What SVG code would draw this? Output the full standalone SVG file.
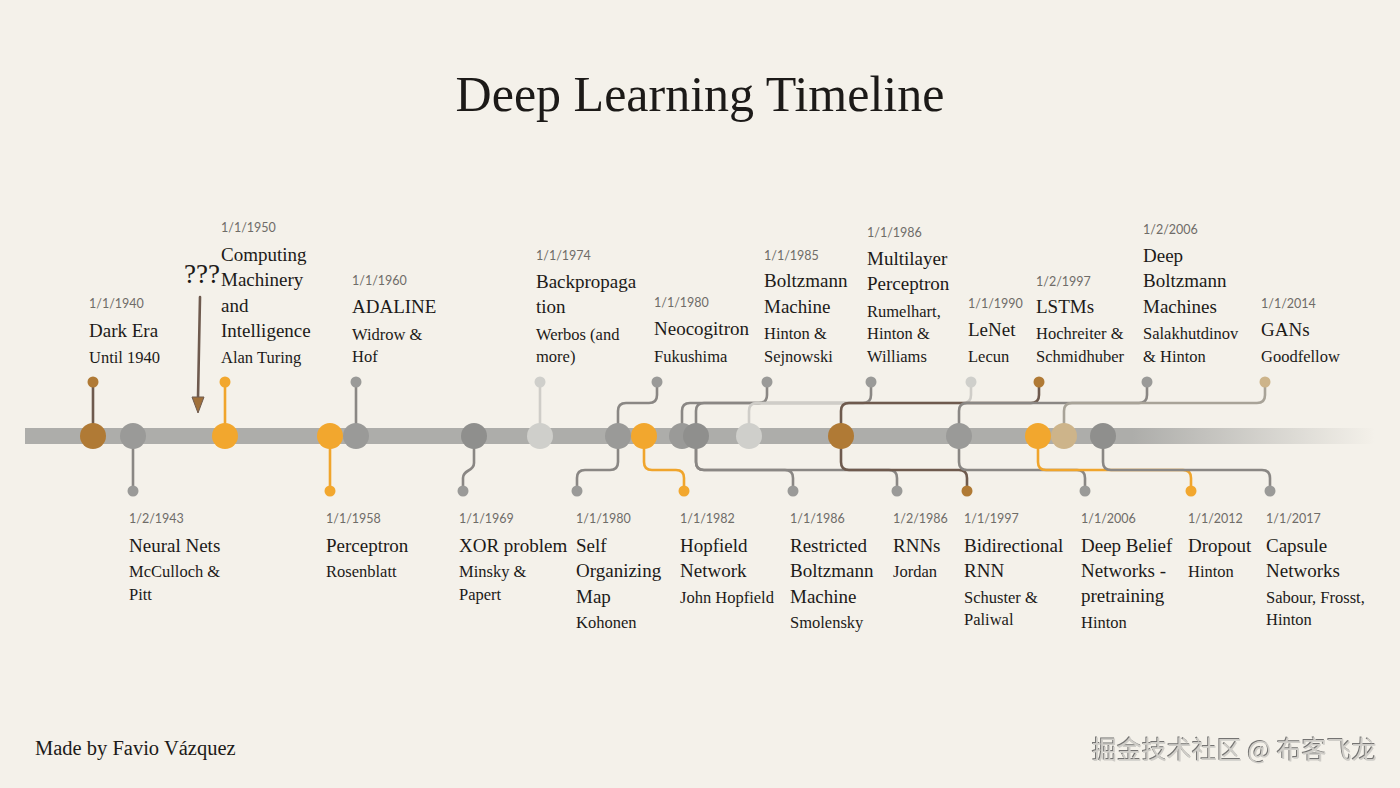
<svg xmlns="http://www.w3.org/2000/svg" width="1400" height="788" viewBox="0 0 1400 788">
<defs>
<style>
.title{font-family:"Liberation Serif",serif;font-size:50px;fill:#1c1a18}
.d{font-family:"Lato","Open Sans",sans-serif;font-size:12.5px;fill:#6f6c68}
.t{font-family:"Liberation Serif",serif;font-size:19px;fill:#1c1a18}
.a{font-family:"Liberation Serif",serif;font-size:16.5px;fill:#1c1a18}
.foot{font-family:"Liberation Serif",serif;font-size:20.5px;fill:#1c1a18}
.wm{font-family:"Noto Sans CJK SC",sans-serif;font-size:25px;fill:#cfcdc8}
.ln{fill:none;stroke-width:2.6;stroke-linecap:round}
.g{stroke:#8a8784}
.lg{stroke:#cfcdc8}
.br{stroke:#6e5a4e}
.or{stroke:#f0a52c}
.tn{stroke:#a8a398}
.cg{fill:#9a9a98}
.cgd{fill:#8f8f8d}
.co{fill:#f2a72e}
.cb{fill:#b07a35}
.cl{fill:#cfcfcb}
.ct{fill:#cdb48a}
</style>
<linearGradient id="bar" x1="0" y1="0" x2="1" y2="0">
<stop offset="0" stop-color="#adadaa"/>
<stop offset="0.82" stop-color="#adadaa"/>
<stop offset="1" stop-color="#adadaa" stop-opacity="0"/>
</linearGradient>
<filter id="emb" x="-5%" y="-20%" width="110%" height="140%">
<feDropShadow dx="-1" dy="-1" stdDeviation="0.4" flood-color="#555" flood-opacity="0.8"/>
</filter>
</defs>
<rect width="1400" height="788" fill="#f4f1ea"/>
<text class="title" x="700" y="111" text-anchor="middle">Deep Learning Timeline</text>

<rect id="bar-axis" x="25" y="428" width="1350" height="16" fill="url(#bar)"/>

<g id="connectors">
<path class="ln br" d="M93,436 V382"/>
<path class="ln g" d="M133,436 V491"/>
<path class="ln or" d="M225,436 V382"/>
<path class="ln or" d="M330,436 V491"/>
<path class="ln g" d="M356,436 V382"/>
<path class="ln g" d="M474,436 V463 C474,472 463,469 463,478 V491"/>
<path class="ln lg" d="M540,436 V382"/>
<path class="ln g" d="M618,436 V411 Q618,403 626,403 H649 Q657,403 657,395 V382"/>
<path class="ln g" d="M618,436 V462 Q618,470 610,470 H585 Q577,470 577,478 V491"/>
<path class="ln or" d="M644,436 V462 Q644,470 652,470 H676 Q684,470 684,478 V491"/>
<path class="ln g" d="M682,436 V411 Q682,403 690,403 H759 Q767,403 767,395 V382"/>
<path class="ln g" d="M696,436 V411 Q696,403 704,403 H863 Q871,403 871,395 V382"/>
<path class="ln g" d="M696,436 V462 Q696,470 704,470 H785 Q793,470 793,478 V491"/>
<path class="ln g" d="M696,436 V462 Q696,470 704,470 H889 Q897,470 897,478 V491"/>
<path class="ln lg" d="M749,436 V411 Q749,403 757,403 H963 Q971,403 971,395 V382"/>
<path class="ln br" d="M841,436 V411 Q841,403 849,403 H1031 Q1039,403 1039,395 V382"/>
<path class="ln br" d="M841,436 V462 Q841,470 849,470 H959 Q967,470 967,478 V491"/>
<path class="ln g" d="M959,436 V411 Q959,403 967,403 H1139 Q1147,403 1147,395 V382"/>
<path class="ln g" d="M959,436 V462 Q959,470 967,470 H1077 Q1085,470 1085,478 V491"/>
<path class="ln or" d="M1038,436 V462 Q1038,470 1046,470 H1183 Q1191,470 1191,478 V491"/>
<path class="ln tn" d="M1064,436 V411 Q1064,403 1072,403 H1257 Q1265,403 1265,395 V382"/>
<path class="ln g" d="M1103,436 V462 Q1103,470 1111,470 H1262 Q1270,470 1270,478 V491"/>
<path class="ln br" d="M200,297 L198,398"/>
<polygon points="192,397 204,397 198,413" fill="#a0703a" stroke="#6e5a4e" stroke-width="1"/>
</g>

<g id="axis-circles">
<circle cx="93" cy="436" r="13" class="cb"/>
<circle cx="133" cy="436" r="13" class="cg"/>
<circle cx="225" cy="436" r="13" class="co"/>
<circle cx="330" cy="436" r="13" class="co"/>
<circle cx="356" cy="436" r="13" class="cg"/>
<circle cx="474" cy="436" r="13" class="cgd"/>
<circle cx="540" cy="436" r="13" class="cl"/>
<circle cx="618" cy="436" r="13" class="cg"/>
<circle cx="644" cy="436" r="13" class="co"/>
<circle cx="682" cy="436" r="13" class="cg"/>
<circle cx="696" cy="436" r="13" class="cgd"/>
<circle cx="749" cy="436" r="13" class="cl"/>
<circle cx="841" cy="436" r="13" class="cb"/>
<circle cx="959" cy="436" r="13" class="cg"/>
<circle cx="1038" cy="436" r="13" class="co"/>
<circle cx="1064" cy="436" r="13" class="ct"/>
<circle cx="1103" cy="436" r="13" class="cgd"/>
</g>

<g id="n-darkera">
<circle cx="93" cy="382" r="5.5" class="cb"/>
<text class="d" x="89" y="308">1/1/1940</text>
<text class="t" x="89" y="337">Dark Era</text>
<text class="a" x="89" y="363">Until 1940</text>
</g>
<g id="n-unknown">
<text x="184" y="283" font-family="Liberation Serif,serif" font-size="27" fill="#1c1a18">???</text>
</g>
<g id="n-computing">
<circle cx="225" cy="382" r="5.5" class="co"/>
<text class="d" x="221" y="232">1/1/1950</text>
<text class="t" x="221" y="261">Computing</text>
<text class="t" x="221" y="286">Machinery</text>
<text class="t" x="221" y="312">and</text>
<text class="t" x="221" y="337">Intelligence</text>
<text class="a" x="221" y="363">Alan Turing</text>
</g>
<g id="n-adaline">
<circle cx="356" cy="382" r="5.5" class="cg"/>
<text class="d" x="352" y="285">1/1/1960</text>
<text class="t" x="352" y="313">ADALINE</text>
<text class="a" x="352" y="340">Widrow &amp;</text>
<text class="a" x="352" y="362">Hof</text>
</g>
<g id="n-backprop">
<circle cx="540" cy="382" r="5.5" class="cl"/>
<text class="d" x="536" y="260">1/1/1974</text>
<text class="t" x="536" y="288">Backpropaga</text>
<text class="t" x="536" y="313">tion</text>
<text class="a" x="536" y="340">Werbos (and</text>
<text class="a" x="536" y="362">more)</text>
</g>
<g id="n-neocognitron">
<circle cx="657" cy="382" r="5.5" class="cg"/>
<text class="d" x="654" y="307">1/1/1980</text>
<text class="t" x="654" y="335">Neocogitron</text>
<text class="a" x="654" y="362">Fukushima</text>
</g>
<g id="n-boltzmann">
<circle cx="767" cy="382" r="5.5" class="cg"/>
<text class="d" x="764" y="260">1/1/1985</text>
<text class="t" x="764" y="287">Boltzmann</text>
<text class="t" x="764" y="313">Machine</text>
<text class="a" x="764" y="339">Hinton &amp;</text>
<text class="a" x="764" y="362">Sejnowski</text>
</g>
<g id="n-multilayer">
<circle cx="871" cy="382" r="5.5" class="cg"/>
<text class="d" x="867" y="237">1/1/1986</text>
<text class="t" x="867" y="265">Multilayer</text>
<text class="t" x="867" y="290">Perceptron</text>
<text class="a" x="867" y="317">Rumelhart,</text>
<text class="a" x="867" y="339">Hinton &amp;</text>
<text class="a" x="867" y="362">Williams</text>
</g>
<g id="n-lenet">
<circle cx="971" cy="382" r="5.5" class="cl"/>
<text class="d" x="968" y="308">1/1/1990</text>
<text class="t" x="968" y="336">LeNet</text>
<text class="a" x="968" y="362">Lecun</text>
</g>
<g id="n-lstm">
<circle cx="1039" cy="382" r="5.5" class="cb"/>
<text class="d" x="1036" y="286">1/2/1997</text>
<text class="t" x="1036" y="313">LSTMs</text>
<text class="a" x="1036" y="339">Hochreiter &amp;</text>
<text class="a" x="1036" y="362">Schmidhuber</text>
</g>
<g id="n-deepboltzmann">
<circle cx="1147" cy="382" r="5.5" class="cg"/>
<text class="d" x="1143" y="234">1/2/2006</text>
<text class="t" x="1143" y="262">Deep</text>
<text class="t" x="1143" y="287">Boltzmann</text>
<text class="t" x="1143" y="313">Machines</text>
<text class="a" x="1143" y="339">Salakhutdinov</text>
<text class="a" x="1143" y="362">&amp; Hinton</text>
</g>
<g id="n-gans">
<circle cx="1265" cy="382" r="5.5" class="ct"/>
<text class="d" x="1261" y="308">1/1/2014</text>
<text class="t" x="1261" y="336">GANs</text>
<text class="a" x="1261" y="362">Goodfellow</text>
</g>

<g id="n-neuralnets">
<circle cx="133" cy="491" r="5.5" class="cg"/>
<text class="d" x="129" y="523">1/2/1943</text>
<text class="t" x="129" y="552">Neural Nets</text>
<text class="a" x="129" y="577">McCulloch &amp;</text>
<text class="a" x="129" y="600">Pitt</text>
</g>
<g id="n-perceptron">
<circle cx="330" cy="491" r="5.5" class="co"/>
<text class="d" x="326" y="523">1/1/1958</text>
<text class="t" x="326" y="552">Perceptron</text>
<text class="a" x="326" y="577">Rosenblatt</text>
</g>
<g id="n-xor">
<circle cx="463" cy="491" r="5.5" class="cg"/>
<text class="d" x="459" y="523">1/1/1969</text>
<text class="t" x="459" y="552">XOR problem</text>
<text class="a" x="459" y="577">Minsky &amp;</text>
<text class="a" x="459" y="600">Papert</text>
</g>
<g id="n-som">
<circle cx="577" cy="491" r="5.5" class="cg"/>
<text class="d" x="576" y="523">1/1/1980</text>
<text class="t" x="576" y="552">Self</text>
<text class="t" x="576" y="577">Organizing</text>
<text class="t" x="576" y="603">Map</text>
<text class="a" x="576" y="628">Kohonen</text>
</g>
<g id="n-hopfield">
<circle cx="684" cy="491" r="5.5" class="co"/>
<text class="d" x="680" y="523">1/1/1982</text>
<text class="t" x="680" y="552">Hopfield</text>
<text class="t" x="680" y="577">Network</text>
<text class="a" x="680" y="603">John Hopfield</text>
</g>
<g id="n-rbm">
<circle cx="793" cy="491" r="5.5" class="cg"/>
<text class="d" x="790" y="523">1/1/1986</text>
<text class="t" x="790" y="552">Restricted</text>
<text class="t" x="790" y="577">Boltzmann</text>
<text class="t" x="790" y="603">Machine</text>
<text class="a" x="790" y="628">Smolensky</text>
</g>
<g id="n-rnns">
<circle cx="897" cy="491" r="5.5" class="cg"/>
<text class="d" x="893" y="523">1/2/1986</text>
<text class="t" x="893" y="552">RNNs</text>
<text class="a" x="893" y="577">Jordan</text>
</g>
<g id="n-birnn">
<circle cx="967" cy="491" r="5.5" class="cb"/>
<text class="d" x="964" y="523">1/1/1997</text>
<text class="t" x="964" y="552">Bidirectional</text>
<text class="t" x="964" y="577">RNN</text>
<text class="a" x="964" y="603">Schuster &amp;</text>
<text class="a" x="964" y="625">Paliwal</text>
</g>
<g id="n-dbn">
<circle cx="1085" cy="491" r="5.5" class="cg"/>
<text class="d" x="1081" y="523">1/1/2006</text>
<text class="t" x="1081" y="552">Deep Belief</text>
<text class="t" x="1081" y="577">Networks -</text>
<text class="t" x="1081" y="602">pretraining</text>
<text class="a" x="1081" y="628">Hinton</text>
</g>
<g id="n-dropout">
<circle cx="1191" cy="491" r="5.5" class="co"/>
<text class="d" x="1188" y="523">1/1/2012</text>
<text class="t" x="1188" y="552">Dropout</text>
<text class="a" x="1188" y="577">Hinton</text>
</g>
<g id="n-capsule">
<circle cx="1270" cy="491" r="5.5" class="cg"/>
<text class="d" x="1266" y="523">1/1/2017</text>
<text class="t" x="1266" y="552">Capsule</text>
<text class="t" x="1266" y="577">Networks</text>
<text class="a" x="1266" y="603">Sabour, Frosst,</text>
<text class="a" x="1266" y="625">Hinton</text>
</g>

<text class="foot" x="35" y="755">Made by Favio Vázquez</text>
<text class="wm" x="1092" y="759" filter="url(#emb)">掘金技术社区 @ 布客飞龙</text>
</svg>
